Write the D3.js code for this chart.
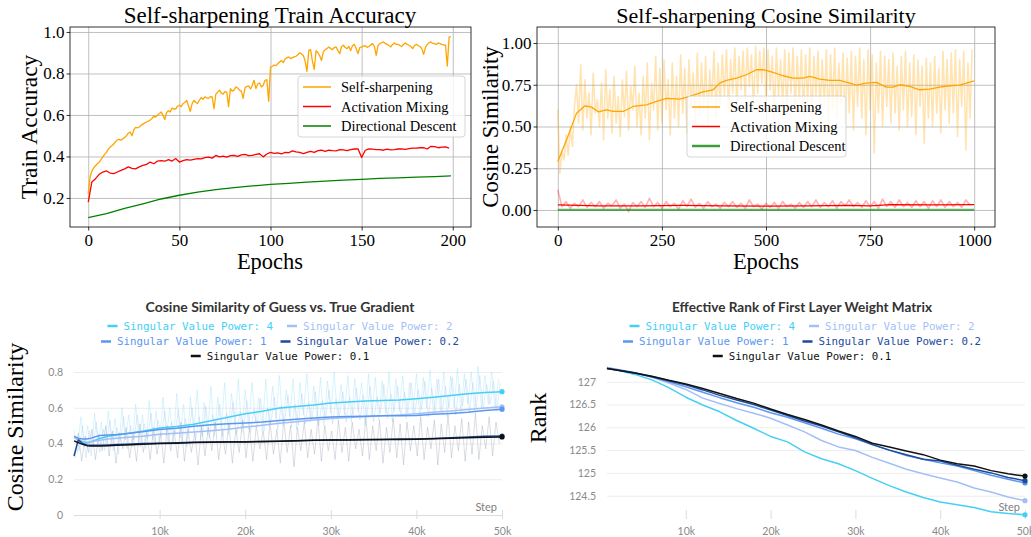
<!DOCTYPE html>
<html>
<head>
<meta charset="utf-8">
<script src="https://cdn.jsdelivr.net/npm/d3@7"></script>
<style>
  body { margin: 0; background: #fff; }
  svg { display: block; }
</style>
</head>
<body>
<svg id="fig" width="1031" height="537"></svg>
<script>

// ---- top left: train accuracy (epoch 0..199)
var accSelf = [
  0.22,0.30,0.33,0.345,0.355,0.365,0.372,0.385,0.398,0.41,
  0.42,0.435,0.445,0.452,0.46,0.472,0.48,0.482,0.478,0.485,
  0.492,0.50,0.512,0.518,0.50,0.528,0.54,0.538,0.542,0.55,
  0.556,0.562,0.566,0.57,0.575,0.584,0.594,0.59,0.60,0.606,
  0.614,0.60,0.578,0.612,0.62,0.615,0.634,0.628,0.63,0.642,
  0.647,0.64,0.655,0.66,0.67,0.645,0.617,0.655,0.67,0.66,
  0.655,0.672,0.684,0.676,0.687,0.682,0.68,0.688,0.687,0.63,
  0.70,0.71,0.72,0.705,0.70,0.712,0.71,0.64,0.727,0.715,
  0.72,0.735,0.73,0.72,0.715,0.68,0.73,0.738,0.74,0.725,
  0.743,0.767,0.727,0.75,0.754,0.735,0.743,0.767,0.77,0.666,
  0.83,0.835,0.84,0.838,0.847,0.855,0.863,0.852,0.87,0.875,
  0.88,0.872,0.876,0.88,0.883,0.89,0.90,0.895,0.887,0.86,
  0.81,0.91,0.915,0.86,0.82,0.91,0.90,0.885,0.863,0.905,
  0.915,0.92,0.928,0.92,0.915,0.925,0.928,0.91,0.896,0.93,
  0.936,0.925,0.92,0.93,0.91,0.935,0.94,0.92,0.896,0.925,
  0.928,0.932,0.934,0.926,0.93,0.938,0.944,0.93,0.887,0.935,
  0.944,0.948,0.952,0.945,0.94,0.935,0.928,0.94,0.947,0.94,
  0.94,0.935,0.93,0.94,0.947,0.94,0.936,0.93,0.92,0.935,
  0.94,0.935,0.93,0.92,0.892,0.925,0.94,0.948,0.952,0.945,
  0.944,0.94,0.947,0.944,0.94,0.938,0.936,0.836,0.976,0.976
];
// every 2 epochs
var accMix = [
  0.18,0.277,0.293,0.314,0.325,0.33,0.32,0.317,0.325,0.333,
  0.34,0.35,0.343,0.34,0.35,0.357,0.362,0.373,0.365,0.378,
  0.38,0.377,0.385,0.378,0.39,0.373,0.38,0.385,0.382,0.386,
  0.39,0.388,0.394,0.397,0.392,0.405,0.398,0.402,0.397,0.404,
  0.405,0.40,0.408,0.41,0.404,0.405,0.41,0.413,0.398,0.412,
  0.42,0.415,0.417,0.412,0.42,0.418,0.427,0.422,0.42,0.414,
  0.42,0.425,0.42,0.428,0.43,0.424,0.43,0.428,0.427,0.433,
  0.432,0.428,0.433,0.436,0.437,0.395,0.43,0.437,0.435,0.433,
  0.433,0.43,0.435,0.432,0.433,0.436,0.437,0.434,0.438,0.44,
  0.44,0.442,0.443,0.436,0.449,0.447,0.442,0.445,0.446,0.44
];
var accDirEpochs = [0,10,20,30,40,50,60,70,80,90,100,110,120,130,140,150,160,170,180,190,199];
var accDir = [0.105,0.125,0.15,0.172,0.195,0.213,0.228,0.24,0.25,0.258,0.265,0.27,0.276,0.281,0.286,0.29,0.294,0.297,0.30,0.303,0.306];

// ---- top right: cosine similarity (raw every 5 epochs, smoothed at marked epochs)
var cosSelfRaw = [
  0.60,0.22,0.35,0.30,0.45,0.33,0.50,0.38,0.62,0.75,
  0.52,0.87,0.48,0.78,0.55,0.70,0.45,0.82,0.58,0.66,
  0.50,0.76,0.42,0.84,0.55,0.72,0.46,0.80,0.52,0.68,
  0.44,0.78,0.56,0.83,0.48,0.74,0.60,0.86,0.50,0.70,
  0.45,0.80,0.55,0.88,0.42,0.76,0.60,0.92,0.48,0.85,
  0.52,0.90,0.60,0.78,0.45,0.88,0.55,0.80,0.50,0.93,
  0.58,0.85,0.46,0.90,0.62,0.82,0.52,0.94,0.56,0.88,
  0.60,0.92,0.50,0.84,0.65,0.95,0.55,0.88,0.62,0.93,
  0.68,0.96,0.58,0.90,0.70,0.97,0.62,0.92,0.72,0.95,
  0.66,0.97,0.74,0.93,0.60,0.98,0.70,0.95,0.76,0.97,
  0.64,0.96,0.72,0.92,0.55,0.97,0.68,0.90,0.62,0.96,
  0.58,0.94,0.70,0.97,0.60,0.92,0.66,0.96,0.56,0.93,
  0.64,0.97,0.52,0.92,0.68,0.95,0.58,0.90,0.62,0.96,
  0.50,0.93,0.60,0.97,0.55,0.88,0.64,0.94,0.52,0.91,
  0.58,0.95,0.48,0.92,0.62,0.97,0.55,0.90,0.45,0.96,
  0.60,0.93,0.34,0.88,0.58,0.95,0.50,0.92,0.62,0.90,
  0.52,0.94,0.58,0.86,0.48,0.92,0.60,0.95,0.50,0.88,
  0.56,0.93,0.45,0.90,0.62,0.86,0.40,0.91,0.55,0.88,
  0.50,0.92,0.58,0.85,0.46,0.95,0.60,0.90,0.52,0.94,
  0.58,0.96,0.44,0.90,0.62,0.95,0.36,0.88,0.55,0.96
];
var cosSelfEpochs = [0,21,45,65,81,97,117,133,157,181,213,237,261,293,317,349,373,389,405,429,
  453,477,493,517,541,565,589,605,629,653,677,701,717,741,765,789,805,821,845,869,893,917,941,965,1000];
var cosSelf = [0.29,0.42,0.58,0.624,0.616,0.588,0.60,0.59,0.59,0.62,0.63,0.65,0.668,0.664,0.68,0.708,0.72,0.76,0.776,0.79,
  0.81,0.84,0.84,0.824,0.804,0.79,0.79,0.80,0.784,0.776,0.776,0.76,0.748,0.76,0.764,0.736,0.736,0.75,0.74,0.72,
  0.724,0.736,0.744,0.748,0.774];
// raw every 10 epochs
var cosMixRaw = [
  0.12,0.02,0.05,0.01,0.04,0.02,0.06,0.015,0.045,0.02,
  0.05,0.01,0.04,0.025,0.06,0.01,0.035,-0.01,0.045,0.02,
  0.05,0.015,0.07,0.02,0.045,0.01,0.05,0.02,0.04,0.005,
  0.055,0.02,0.065,0.015,0.04,0.01,0.05,0.02,0.035,0.01,
  0.045,0.02,0.05,0.015,0.04,0.01,0.06,0.02,0.035,0.005,
  0.04,0.015,0.045,0.01,0.05,0.02,0.035,0.01,0.045,0.015,
  0.05,0.02,0.06,0.015,0.045,0.02,0.055,0.01,0.05,0.025,
  0.06,0.02,0.045,0.015,0.055,0.02,0.05,0.01,0.065,0.02,
  0.05,0.015,0.06,0.02,0.045,0.015,0.055,0.02,0.05,0.01,
  0.055,0.02,0.06,0.015,0.05,0.02,0.045,0.015,0.06,0.03
];
var cosMixEpochs = [0,50,100,150,200,300,400,500,600,700,750,800,900,1000];
var cosMix = [0.03,0.027,0.024,0.025,0.025,0.027,0.025,0.023,0.024,0.028,0.025,0.032,0.03,0.032];
var cosDirEpochs = [0,1000];
var cosDir = [0.001,0.001];

// ---- bottom: wandb runs
var powerLabels = ['4','2','1','0.2','0.1'];
var powerColors = ['#45cff5','#a4bff6','#5b97ef','#1d4b9b','#111111'];

// guess cosine, steps in k
var guessSteps = [0,0.5,1,1.5,2,3,4,5,6,8,10,12,14,16,18,20,22,24,26,28,30,32,34,36,38,40,42,44,46,48,50];
var guessP4 = [0.437,0.425,0.41,0.405,0.41,0.428,0.44,0.448,0.455,0.468,0.487,0.495,0.508,0.527,0.547,0.566,0.58,0.598,0.607,0.615,0.627,0.632,0.638,0.64,0.643,0.65,0.659,0.668,0.678,0.686,0.69];
var guessP2 = [0.435,0.42,0.405,0.40,0.41,0.418,0.425,0.43,0.433,0.44,0.452,0.458,0.465,0.472,0.48,0.492,0.502,0.513,0.522,0.532,0.54,0.545,0.55,0.555,0.56,0.567,0.575,0.582,0.59,0.598,0.605];
var guessP1 = [0.44,0.43,0.425,0.425,0.43,0.445,0.447,0.45,0.455,0.466,0.478,0.485,0.497,0.505,0.51,0.515,0.52,0.528,0.535,0.542,0.548,0.551,0.553,0.555,0.555,0.556,0.563,0.568,0.575,0.585,0.592];
var guessP02 = [0.33,0.42,0.40,0.392,0.39,0.39,0.392,0.394,0.396,0.40,0.402,0.404,0.407,0.409,0.41,0.41,0.412,0.413,0.416,0.418,0.42,0.421,0.422,0.423,0.425,0.425,0.428,0.432,0.436,0.44,0.442];
var guessP01 = [0.415,0.405,0.395,0.388,0.386,0.386,0.388,0.39,0.392,0.396,0.40,0.402,0.405,0.407,0.408,0.409,0.41,0.412,0.415,0.418,0.42,0.42,0.421,0.422,0.423,0.424,0.426,0.429,0.432,0.435,0.437];
// raw logs, one value every 400 steps
var guessRawCyan = [
  0.48,0.35,0.55,0.38,0.50,0.33,0.57,0.40,0.52,0.36,
  0.58,0.40,0.54,0.34,0.60,0.42,0.56,0.38,0.62,0.40,
  0.56,0.37,0.64,0.42,0.58,0.39,0.66,0.44,0.60,0.40,
  0.68,0.43,0.62,0.38,0.66,0.46,0.70,0.42,0.63,0.45,
  0.72,0.44,0.66,0.48,0.74,0.45,0.68,0.50,0.76,0.46,
  0.70,0.48,0.74,0.52,0.66,0.47,0.76,0.50,0.72,0.54,
  0.78,0.50,0.70,0.55,0.76,0.48,0.74,0.56,0.79,0.52,
  0.72,0.54,0.77,0.50,0.75,0.57,0.80,0.53,0.73,0.56,
  0.78,0.52,0.76,0.58,0.74,0.50,0.79,0.55,0.77,0.53,
  0.75,0.57,0.80,0.52,0.76,0.58,0.78,0.54,0.74,0.56,
  0.79,0.55,0.77,0.60,0.81,0.56,0.76,0.58,0.80,0.55,
  0.78,0.60,0.82,0.57,0.79,0.62,0.80,0.58,0.83,0.60,
  0.78,0.62,0.80,0.59,0.76
];
var guessRawBlue = [
  0.45,0.36,0.50,0.32,0.47,0.38,0.52,0.35,0.48,0.40,
  0.53,0.36,0.49,0.41,0.55,0.37,0.50,0.42,0.56,0.38,
  0.51,0.43,0.57,0.39,0.53,0.44,0.58,0.40,0.52,0.45,
  0.59,0.41,0.54,0.46,0.60,0.42,0.55,0.44,0.61,0.43,
  0.56,0.47,0.62,0.44,0.57,0.48,0.63,0.45,0.58,0.49,
  0.64,0.46,0.59,0.50,0.65,0.47,0.60,0.51,0.66,0.48,
  0.61,0.52,0.67,0.49,0.62,0.50,0.68,0.51,0.63,0.53,
  0.69,0.50,0.64,0.54,0.70,0.51,0.65,0.55,0.69,0.52,
  0.66,0.56,0.71,0.53,0.67,0.55,0.72,0.52,0.66,0.57,
  0.73,0.54,0.68,0.58,0.72,0.55,0.69,0.57,0.74,0.56,
  0.70,0.59,0.75,0.55,0.71,0.58,0.76,0.57,0.72,0.60,
  0.77,0.56,0.73,0.61,0.76,0.58,0.74,0.60,0.78,0.59,
  0.73,0.62,0.75,0.58,0.74
];
var guessRawGrey = [
  0.32,0.46,0.30,0.44,0.35,0.48,0.31,0.45,0.36,0.50,
  0.33,0.47,0.29,0.46,0.37,0.49,0.32,0.45,0.30,0.51,
  0.35,0.47,0.31,0.49,0.34,0.46,0.29,0.50,0.36,0.47,
  0.32,0.52,0.30,0.48,0.35,0.46,0.28,0.50,0.33,0.49,
  0.36,0.52,0.31,0.47,0.34,0.51,0.29,0.48,0.35,0.53,
  0.32,0.49,0.30,0.50,0.37,0.47,0.31,0.52,0.34,0.48,
  0.29,0.53,0.35,0.50,0.27,0.49,0.36,0.52,0.32,0.48,
  0.34,0.54,0.30,0.50,0.36,0.47,0.31,0.53,0.35,0.49,
  0.30,0.52,0.37,0.48,0.33,0.55,0.31,0.50,0.36,0.53,
  0.29,0.49,0.35,0.54,0.32,0.51,0.28,0.52,0.36,0.50,
  0.33,0.55,0.31,0.49,0.37,0.53,0.28,0.51,0.35,0.56,
  0.32,0.50,0.36,0.54,0.30,0.52,0.34,0.57,0.31,0.50,
  0.37,0.55,0.33,0.52,0.40
];

// effective rank, steps in k
var rankSteps = [0.7,2,4,6,8,10,12,14,16,18,20,22,24,26,28,30,32,34,36,38,40,42,44,46,48,50];
var rankP4 = [127.31,127.25,127.16,127.04,126.87,126.66,126.49,126.34,126.15,125.98,125.80,125.68,125.46,125.31,125.20,125.05,124.88,124.72,124.58,124.46,124.36,124.30,124.24,124.15,124.11,124.08];
var rankP2 = [127.31,127.27,127.20,127.10,126.97,126.83,126.64,126.52,126.41,126.31,126.20,126.05,125.90,125.71,125.57,125.49,125.34,125.21,125.08,124.98,124.89,124.80,124.67,124.58,124.47,124.39];
var rankP1 = [127.30,127.26,127.19,127.10,127.00,126.89,126.77,126.65,126.54,126.44,126.32,126.22,126.10,125.98,125.85,125.75,125.62,125.50,125.38,125.30,125.22,125.15,125.05,124.95,124.86,124.78];
var rankP02 = [127.29,127.25,127.19,127.11,127.02,126.93,126.82,126.70,126.60,126.50,126.38,126.26,126.14,126.03,125.90,125.77,125.62,125.50,125.40,125.30,125.26,125.17,125.08,125.00,124.90,124.83];
var rankP01 = [127.29,127.25,127.19,127.12,127.03,126.95,126.85,126.74,126.63,126.53,126.40,126.28,126.17,126.05,125.92,125.80,125.65,125.57,125.48,125.40,125.28,125.20,125.15,125.05,124.98,124.93];

var SERIF = '"Liberation Serif","Times New Roman",serif';
var SANS = 'Lato,"Noto Sans",sans-serif';
var MONO = '"DejaVu Sans Mono",monospace';

var fig = d3.select('#fig');
var defs = fig.append('defs');

function zip(xs, ys) {
  return ys.map(function(v, i) { return [xs[i], v]; });
}

// matplotlib-looking axes box
function mplAxes(o) {
  var g = fig.append('g');
  var x = d3.scaleLinear().domain(o.xDomain).range([o.left, o.right]);
  var y = d3.scaleLinear().domain(o.yDomain).range([o.bottom, o.top]);
  var h = o.bottom - o.top, w = o.right - o.left;

  // grid
  g.append('g').attr('transform', 'translate(0,' + o.bottom + ')')
    .call(d3.axisBottom(x).tickValues(o.xTicks).tickSize(-h).tickFormat(''))
    .call(function(a) { a.select('.domain').remove(); })
    .selectAll('line').attr('stroke', '#b0b0b0').attr('stroke-width', 0.8);
  g.append('g').attr('transform', 'translate(' + o.left + ',0)')
    .call(d3.axisLeft(y).tickValues(o.yTicks).tickSize(-w).tickFormat(''))
    .call(function(a) { a.select('.domain').remove(); })
    .selectAll('line').attr('stroke', '#b0b0b0').attr('stroke-width', 0.8);

  defs.append('clipPath').attr('id', o.id)
    .append('rect').attr('x', o.left).attr('y', o.top).attr('width', w).attr('height', h);
  var plot = g.append('g').attr('clip-path', 'url(#' + o.id + ')');

  function finish() {
    var xa = g.append('g').attr('transform', 'translate(0,' + o.bottom + ')')
      .call(d3.axisBottom(x).tickValues(o.xTicks).tickSizeInner(3.5).tickSizeOuter(0).tickPadding(3)
        .tickFormat(d3.format('d')));
    var ya = g.append('g').attr('transform', 'translate(' + o.left + ',0)')
      .call(d3.axisLeft(y).tickValues(o.yTicks).tickSizeInner(3.5).tickSizeOuter(0).tickPadding(2)
        .tickFormat(d3.format(o.yFmt)));
    [xa, ya].forEach(function(a) {
      a.select('.domain').remove();
      a.attr('font-family', SERIF).attr('font-size', 17);
      a.selectAll('line').attr('stroke', '#000').attr('stroke-width', 0.8);
      a.selectAll('text').attr('fill', '#000');
    });
    g.append('rect').attr('x', o.left).attr('y', o.top).attr('width', w).attr('height', h)
      .attr('fill', 'none').attr('stroke', '#000').attr('stroke-width', 0.8);

    g.append('text').attr('x', o.titleX).attr('y', 22.5).attr('text-anchor', 'middle')
      .attr('font-family', SERIF).attr('font-size', o.titleSize).text(o.title);
    g.append('text').attr('x', o.titleX).attr('y', 269).attr('text-anchor', 'middle')
      .attr('font-family', SERIF).attr('font-size', 22.5).text('Epochs');
    g.append('text').attr('transform', 'translate(' + o.yLabelX + ',127) rotate(-90)')
      .attr('text-anchor', 'middle').attr('font-family', SERIF).attr('font-size', o.yLabelSize).text(o.yLabel);

    // legend
    var lg = g.append('g').attr('transform', 'translate(' + o.legend.x + ',' + o.legend.y + ')');
    lg.append('rect').attr('width', o.legend.w).attr('height', 61).attr('rx', 3)
      .attr('fill', '#fff').attr('fill-opacity', 0.8).attr('stroke', '#cccccc').attr('stroke-width', 0.8);
    o.legend.items.forEach(function(it, i) {
      var yy = 11 + i * 19.5;
      lg.append('line').attr('x1', 5).attr('x2', 33).attr('y1', yy).attr('y2', yy)
        .attr('stroke', it.color).attr('stroke-width', it.width || 1.5);
      lg.append('text').attr('x', 43).attr('y', yy + 5).attr('font-family', SERIF)
        .attr('font-size', 14.5).text(it.label);
    });
  }
  return { x: x, y: y, plot: plot, finish: finish };
}

function drawLine(g, x, y, pts, color, width, opacity) {
  g.append('path').datum(pts)
    .attr('d', d3.line().x(function(d) { return x(d[0]); }).y(function(d) { return y(d[1]); }))
    .attr('fill', 'none').attr('stroke', color).attr('stroke-width', width)
    .attr('stroke-opacity', opacity == null ? 1 : opacity).attr('stroke-linejoin', 'round');
}

// ===== panel 1
var p1 = mplAxes({
  id: 'clip1', left: 70, right: 471, top: 27, bottom: 227,
  xDomain: [-10, 210], yDomain: [0.06, 1.024],
  xTicks: [0, 50, 100, 150, 200], yTicks: [0.2, 0.4, 0.6, 0.8, 1.0], yFmt: '.1f',
  title: 'Self-sharpening Train Accuracy', titleX: 270, titleSize: 23,
  yLabel: 'Train Accuracy', yLabelX: 37, yLabelSize: 23.5,
  legend: { x: 298, y: 76, w: 167, items: [
    { label: 'Self-sharpening', color: 'orange' },
    { label: 'Activation Mixing', color: 'red' },
    { label: 'Directional Descent', color: 'green' }] }
});
drawLine(p1.plot, p1.x, p1.y, accSelf.map(function(v, i) { return [i, v]; }), 'orange', 1.3);
drawLine(p1.plot, p1.x, p1.y, accMix.map(function(v, i) { return [i * 2, v]; }), 'red', 1.3);
drawLine(p1.plot, p1.x, p1.y, zip(accDirEpochs, accDir), 'green', 1.3);
p1.finish();

// ===== panel 2
var p2 = mplAxes({
  id: 'clip2', left: 537, right: 995, top: 27, bottom: 227,
  xDomain: [-50, 1050], yDomain: [-0.102, 1.096],
  xTicks: [0, 250, 500, 750, 1000], yTicks: [0, 0.25, 0.5, 0.75, 1.0], yFmt: '.2f',
  title: 'Self-sharpening Cosine Similarity', titleX: 766, titleSize: 22,
  yLabel: 'Cosine Similarity', yLabelX: 498, yLabelSize: 23,
  legend: { x: 687, y: 96, w: 159, items: [
    { label: 'Self-sharpening', color: 'orange' },
    { label: 'Activation Mixing', color: 'red' },
    { label: 'Directional Descent', color: '#3a9e3a', width: 2.5 }] }
});
drawLine(p2.plot, p2.x, p2.y, cosSelfRaw.map(function(v, i) { return [i * 5, v]; }), 'orange', 1.6, 0.3);
drawLine(p2.plot, p2.x, p2.y, cosMixRaw.map(function(v, i) { return [i * 10, v]; }), 'red', 1.6, 0.3);
drawLine(p2.plot, p2.x, p2.y, zip(cosDirEpochs, cosDir), 'green', 2.2, 0.6);
drawLine(p2.plot, p2.x, p2.y, zip(cosSelfEpochs, cosSelf), 'orange', 1.3);
drawLine(p2.plot, p2.x, p2.y, zip(cosMixEpochs, cosMix), 'red', 1.3);
p2.finish();

// wandb-looking panel
function wbPanel(o) {
  var g = fig.append('g');
  var x = d3.scaleLinear().domain([0, 50]).range([o.x0, o.x50]);
  var y = d3.scaleLinear().domain(o.yDomain).range([o.bottom, o.top]);

  g.append('g').attr('transform', 'translate(' + o.gridLeft + ',0)')
    .call(d3.axisLeft(y).tickValues(o.yTicks).tickSize(-(o.x50 - o.gridLeft)).tickPadding(11)
      .tickFormat(o.yFmt))
    .call(function(a) {
      a.select('.domain').remove();
      a.attr('font-family', SANS).attr('font-size', 10.5);
      a.selectAll('line').attr('stroke', function(d) { return d === 0 ? '#dcdcdc' : '#ededed'; });
      a.selectAll('text').attr('fill', '#8a8a8a');
    });
  g.append('g').attr('transform', 'translate(0,510)')
    .call(d3.axisBottom(x).tickValues([10, 20, 30, 40, 50]).tickSize(9).tickPadding(8.5)
      .tickFormat(function(d) { return d + 'k'; }))
    .call(function(a) {
      a.select('.domain').remove();
      a.attr('font-family', SANS).attr('font-size', 10.5);
      a.selectAll('line').attr('stroke', '#dcdcdc');
      a.selectAll('text').attr('fill', '#8a8a8a');
    });
  g.append('text').attr('x', o.x50 - 5).attr('y', 511).attr('text-anchor', 'end')
    .attr('font-family', SANS).attr('font-size', 11).attr('fill', '#808080').text('Step');

  defs.append('clipPath').attr('id', o.id).append('rect')
    .attr('x', o.gridLeft - 2).attr('y', 362).attr('width', o.x50 - o.gridLeft + 5).attr('height', 160);
  var plot = g.append('g').attr('clip-path', 'url(#' + o.id + ')');

  // title and legend
  g.append('text').attr('x', o.cx).attr('y', 312).attr('text-anchor', 'middle')
    .attr('font-family', SANS).attr('font-weight', 'bold').attr('font-size', o.titleSize)
    .attr('fill', '#333').text(o.title);
  var rows = [{ y: 329.5, idx: [0, 1] }, { y: 345, idx: [2, 3] }, { y: 359.5, idx: [4] }];
  rows.forEach(function(row) {
    var rg = g.append('g');
    var pos = 0;
    row.idx.forEach(function(k, j) {
      if (j > 0) pos += 14;
      rg.append('line').attr('x1', pos).attr('x2', pos + 10).attr('y1', row.y - 3.5).attr('y2', row.y - 3.5)
        .attr('stroke', powerColors[k]).attr('stroke-width', 2.5);
      var t = rg.append('text').attr('x', pos + 16).attr('y', row.y)
        .attr('font-family', MONO).attr('font-size', 10.8).attr('fill', powerColors[k])
        .text('Singular Value Power: ' + powerLabels[k]);
      pos += 16 + t.node().getComputedTextLength();
    });
    rg.attr('transform', 'translate(' + (o.cx - pos / 2) + ',0)');
  });

  g.append('text').attr('transform', 'translate(' + o.yLabelX + ',' + o.yLabelY + ') rotate(-90)')
    .attr('text-anchor', 'middle').attr('font-family', SERIF).attr('font-size', 24).text(o.yLabel);

  return { x: x, y: y, plot: plot };
}

// ===== panel 3
var p3 = wbPanel({
  id: 'clip3', x0: 74, x50: 502, gridLeft: 74, top: 372, bottom: 515,
  yDomain: [0, 0.8], yTicks: [0, 0.2, 0.4, 0.6, 0.8],
  yFmt: function(d) { return d === 0 ? '0' : d3.format('.1f')(d); },
  title: 'Cosine Similarity of Guess vs. True Gradient', cx: 280, titleSize: 14,
  yLabel: 'Cosine Similarity', yLabelX: 23, yLabelY: 427
});
var rawStep = 0.4;
drawLine(p3.plot, p3.x, p3.y, guessRawCyan.map(function(v, i) { return [i * rawStep, v]; }), '#7fd9f7', 1, 0.3);
drawLine(p3.plot, p3.x, p3.y, guessRawBlue.map(function(v, i) { return [i * rawStep + 0.2, v]; }), '#9cbcf2', 1, 0.3);
drawLine(p3.plot, p3.x, p3.y, guessRawGrey.map(function(v, i) { return [i * rawStep + 0.1, v]; }), '#a3a9b8', 1, 0.4);
var guessSeries = [guessP4, guessP2, guessP1, guessP02, guessP01];
guessSeries.forEach(function(s, k) {
  drawLine(p3.plot, p3.x, p3.y, zip(guessSteps, s), powerColors[k], 1.5);
});
guessSeries.forEach(function(s, k) {
  p3.plot.append('circle').attr('cx', p3.x(50)).attr('cy', p3.y(s[s.length - 1])).attr('r', 2.6)
    .attr('fill', powerColors[k]);
});

// ===== panel 4
var p4 = wbPanel({
  id: 'clip4', x0: 601, x50: 1025, gridLeft: 607, top: 381.7 - 0.4 * 45.6, bottom: 518.5,
  yDomain: [124, 127.4], yTicks: [124.5, 125, 125.5, 126, 126.5, 127],
  yFmt: d3.format('~g'),
  title: 'Effective Rank of First Layer Weight Matrix', cx: 802, titleSize: 13.6,
  yLabel: 'Rank', yLabelX: 546, yLabelY: 418
});
var rankSeries = [rankP4, rankP2, rankP1, rankP02, rankP01];
rankSeries.forEach(function(s, k) {
  drawLine(p4.plot, p4.x, p4.y, zip(rankSteps, s), powerColors[k], 1.5);
});
rankSeries.forEach(function(s, k) {
  p4.plot.append('circle').attr('cx', p4.x(50)).attr('cy', p4.y(s[s.length - 1])).attr('r', 2.6)
    .attr('fill', powerColors[k]);
});

</script>
</body>
</html>
